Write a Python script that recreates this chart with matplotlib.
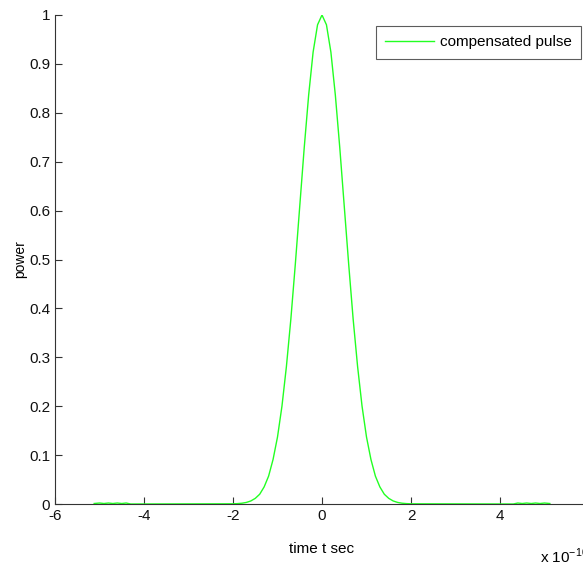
import matplotlib.pyplot as plt

plt.rcParams['font.family'] = ['Liberation Sans Narrow', 'Liberation Sans', 'DejaVu Sans']

# time in units of 1e-10 s, power normalised
time = [-5.12, -5.0, -4.9, -4.8, -4.7, -4.6, -4.5, -4.4, -4.3,
        -2.0, -1.9, -1.8, -1.7, -1.6, -1.5, -1.4, -1.3, -1.2, -1.1, -1.0,
        -0.9, -0.8, -0.7, -0.6, -0.5, -0.4, -0.3, -0.2, -0.1, 0.0,
        0.1, 0.2, 0.3, 0.4, 0.5, 0.6, 0.7, 0.8, 0.9, 1.0,
        1.1, 1.2, 1.3, 1.4, 1.5, 1.6, 1.7, 1.8, 1.9, 2.0,
        4.3, 4.4, 4.5, 4.6, 4.7, 4.8, 4.9, 5.0, 5.12]
power = [0.001, 0.002, 0.001, 0.002, 0.001, 0.002, 0.001, 0.002, 0.0,
         0.0004, 0.0008, 0.0016, 0.0032, 0.0062, 0.0115, 0.020, 0.035, 0.057, 0.091, 0.137,
         0.200, 0.281, 0.378, 0.490, 0.609, 0.728, 0.836, 0.924, 0.980, 1.0,
         0.980, 0.924, 0.836, 0.728, 0.609, 0.490, 0.378, 0.281, 0.200, 0.137,
         0.091, 0.057, 0.035, 0.020, 0.0115, 0.0062, 0.0032, 0.0016, 0.0008, 0.0004,
         0.0, 0.002, 0.001, 0.002, 0.001, 0.002, 0.001, 0.002, 0.001]

xticks = [-6, -4, -2, 0, 2, 4, 6]
yticks = [0, 0.1, 0.2, 0.3, 0.4, 0.5, 0.6, 0.7, 0.8, 0.9, 1]

fig = plt.figure(figsize=(5.83, 5.66), dpi=100)
ax = fig.add_axes([55 / 583, 62 / 566, 534 / 583, 489 / 566])

ax.plot(time, power, color='#22ff22', lw=1, label='compensated pulse')

ax.set_xlim(-6, 6)
ax.set_ylim(0, 1)
ax.set_xticks(xticks)
ax.set_xticklabels([str(t) for t in xticks])
ax.set_yticks(yticks)
ax.set_yticklabels(['%g' % v for v in yticks])

for s in ['top', 'right']:
    ax.spines[s].set_visible(False)
for s in ['left', 'bottom']:
    ax.spines[s].set_color('#333333')
ax.tick_params(direction='in', length=5, width=0.8, colors='#333333',
               labelcolor='#111111', labelsize=11)

ax.set_xlabel('time t sec', fontsize=11, labelpad=14)
ax.set_ylabel('power', fontsize=10, labelpad=1)
fig.text(540 / 583, 1 - 556 / 566, r'x 10$^{\mathregular{-10}}$', fontsize=11,
         va='center', ha='left')

leg = ax.legend(loc='upper right', bbox_to_anchor=(581 / 583, 1 - 26 / 566),
                bbox_transform=fig.transFigure, borderaxespad=0, fancybox=False,
                fontsize=11, handlelength=3.2, handletextpad=0.35, borderpad=0.62)
leg.get_frame().set_edgecolor('#333333')
leg.get_frame().set_linewidth(0.8)

fig.savefig('out.png', dpi=100)
